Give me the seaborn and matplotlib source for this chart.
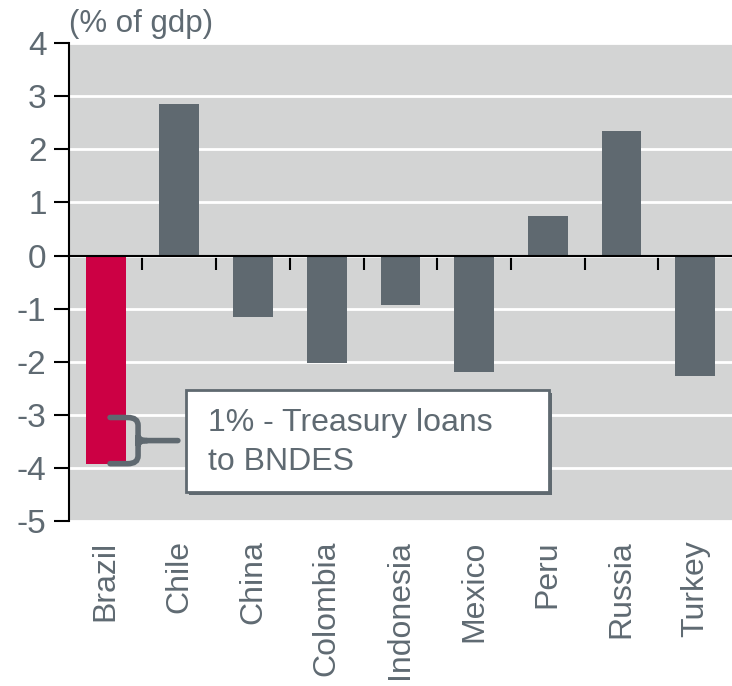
import numpy as np
import pandas as pd
import seaborn as sns
import matplotlib.pyplot as plt
from matplotlib.patches import Rectangle, PathPatch
from matplotlib.path import Path
import matplotlib.patheffects as pe

# data
countries = ["Brazil", "Chile", "China", "Colombia", "Indonesia",
             "Mexico", "Peru", "Russia", "Turkey"]
values = [-3.92, 2.86, -1.15, -2.03, -0.93, -2.2, 0.74, 2.34, -2.26]
yticks = [4, 3, 2, 1, 0, -1, -2, -3, -4, -5]
note = "1% - Treasury loans\nto BNDES"
unit = "(% of gdp)"

GREY = "#5f6970"
RED = "#cc0044"
TXT = "#5f6a72"
BG = "#d3d4d4"

sns.set_style("white")
plt.rcParams['font.family'] = ['Liberation Sans', 'DejaVu Sans']

df = pd.DataFrame({'country': countries, 'value': values})
palette = {c: (RED if c == "Brazil" else GREY) for c in countries}

fig = plt.figure(figsize=(7.32, 6.86), dpi=100)
ax = fig.add_axes([0.094, 0.2405, 0.906, 0.6965])
ax.set_facecolor(BG)

sns.barplot(data=df, x='country', y='value', hue='country', palette=palette,
            width=0.54, saturation=1, legend=False, ax=ax, zorder=3,
            linewidth=0)

ax.set_ylim(-5, 4)
ax.set_xlim(-0.5, len(countries) - 0.5)
ax.set_yticks(yticks)
ax.set_yticklabels([str(t) for t in yticks])
ax.yaxis.grid(True, color='white', linewidth=2, zorder=0)
ax.set_axisbelow(True)
ax.set_xlabel("")
ax.set_ylabel("")

for s in ['top', 'right']:
    ax.spines[s].set_visible(False)
ax.spines['left'].set_color('black')
ax.spines['left'].set_linewidth(1.5)
ax.tick_params(axis='y', left=True, direction='out', length=11, width=1.5,
               color='black', labelsize=24, labelcolor=TXT, pad=5)

# zero line with ticks between categories
ax.spines['bottom'].set_position(('data', 0))
ax.spines['bottom'].set_color('black')
ax.spines['bottom'].set_linewidth(1.5)
ax.spines['bottom'].set_zorder(4)
ax.set_xticks(np.arange(len(countries)))
ax.set_xticklabels([])
ax.set_xticks(np.arange(len(countries) - 1) + 0.5, minor=True)
ax.tick_params(axis='x', which='major', length=0)
ax.tick_params(axis='x', which='minor', bottom=True, direction='out',
               length=10, width=1.5, color='black')

# category labels at the bottom
sec = ax.secondary_xaxis('bottom')
sec.set_xticks(np.arange(len(countries)))
sec.set_xticklabels(countries, rotation=90, fontsize=23, color=TXT)
sec.tick_params(length=0, pad=14)
sec.spines['bottom'].set_visible(False)

ax.text(0.0, 1.008, unit, transform=ax.transAxes, ha='left', va='bottom',
        fontsize=22.5, color=TXT)

# brace for the 1% of BNDES loans
b = values[0]
top = b + 0.87
mid = (top + b) / 2
verts = [(0.06, top), (0.30, top),
         (0.44, top), (0.44, top - 0.15),
         (0.44, mid - 0.1),
         (0.44, mid), (0.56, mid),
         (0.98, mid),
         (0.56, mid), (0.44, mid),
         (0.44, mid + 0.1),
         (0.44, b + 0.15),
         (0.44, b), (0.30, b),
         (0.06, b)]
codes = [Path.MOVETO, Path.LINETO,
         Path.CURVE3, Path.CURVE3,
         Path.LINETO,
         Path.CURVE3, Path.CURVE3,
         Path.LINETO,
         Path.MOVETO, Path.CURVE3, Path.CURVE3,
         Path.LINETO,
         Path.CURVE3, Path.CURVE3,
         Path.LINETO]
ax.add_patch(PathPatch(Path(verts, codes), facecolor='none', edgecolor=GREY,
                       linewidth=4, capstyle='round', zorder=5))

box = Rectangle((1.09, -4.45), 4.92, 1.92, facecolor='white', edgecolor=GREY,
                linewidth=2, zorder=6,
                path_effects=[pe.SimplePatchShadow(offset=(2.5, -2.5),
                                                   shadow_rgbFace=GREY, alpha=1),
                              pe.Normal()])
ax.add_patch(box)
ax.text(1.39, -2.88, note, ha='left', va='top', fontsize=23, color=TXT,
        linespacing=1.38, zorder=7)

fig.savefig("out.png", dpi=100)
